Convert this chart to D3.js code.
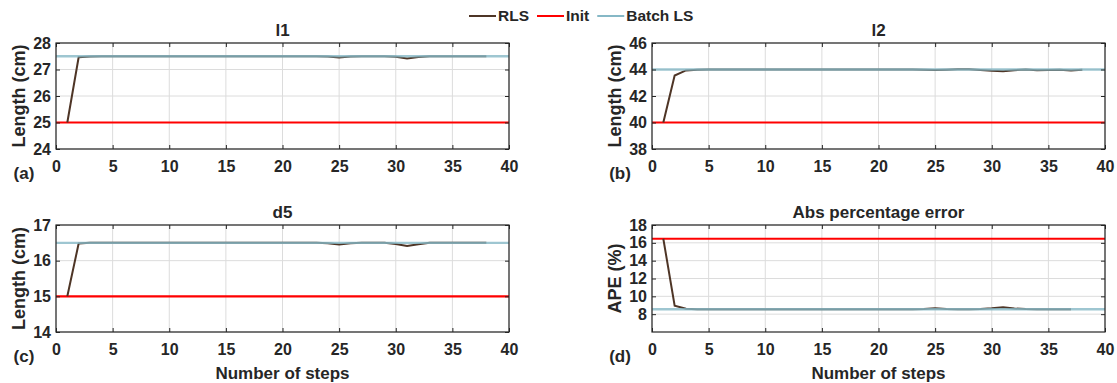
<!DOCTYPE html>
<html>
<head>
<meta charset="utf-8">
<script src="https://cdn.jsdelivr.net/npm/d3@7"></script>
<style>
  body { margin: 0; background: #fff; }
  svg text { font-family: "Liberation Sans", Arial, sans-serif; font-weight: bold; fill: #262626; }
  .grid line { stroke: #dcdcdc; stroke-width: 1; }
</style>
</head>
<body>
<div id="chart"></div>
<script>
// RLS estimate per step (step = index + 1)
var rlsL1 = [25.00, 27.46, 27.49, 27.50, 27.50, 27.50, 27.50, 27.50, 27.50, 27.50,
             27.50, 27.50, 27.50, 27.50, 27.50, 27.50, 27.50, 27.50, 27.50, 27.50,
             27.50, 27.50, 27.50, 27.49, 27.45, 27.49, 27.50, 27.50, 27.50, 27.48,
             27.42, 27.47, 27.50, 27.50, 27.50, 27.50, 27.50, 27.50];
var rlsL2 = [40.00, 43.55, 43.93, 43.98, 44.00, 44.00, 44.00, 44.00, 44.00, 44.00,
             44.00, 44.00, 44.00, 44.00, 44.00, 44.00, 44.00, 44.00, 44.00, 44.00,
             44.00, 44.00, 44.00, 43.99, 43.96, 43.99, 44.01, 44.01, 43.97, 43.90,
             43.86, 43.95, 44.00, 43.94, 43.96, 43.99, 43.92, 43.99];
var rlsD5 = [15.00, 16.48, 16.50, 16.50, 16.50, 16.50, 16.50, 16.50, 16.50, 16.50,
             16.50, 16.50, 16.50, 16.50, 16.50, 16.50, 16.50, 16.50, 16.50, 16.50,
             16.50, 16.50, 16.50, 16.49, 16.45, 16.49, 16.50, 16.50, 16.50, 16.47,
             16.41, 16.46, 16.50, 16.50, 16.50, 16.50, 16.50, 16.50];
var rlsApe = [16.46, 8.95, 8.60, 8.56, 8.55, 8.55, 8.55, 8.55, 8.55, 8.55,
              8.55, 8.55, 8.55, 8.55, 8.55, 8.55, 8.55, 8.55, 8.55, 8.55,
              8.55, 8.55, 8.55, 8.58, 8.66, 8.59, 8.56, 8.56, 8.58, 8.66,
              8.78, 8.64, 8.58, 8.56, 8.56, 8.56, 8.56];

var initVals  = [25, 40, 15, 16.46];
var batchVals = [27.5, 44, 16.5, 8.55];

var titles  = ['l1', 'l2', 'd5', 'Abs percentage error'];
var yLabels = ['Length (cm)', 'Length (cm)', 'Length (cm)', 'APE (%)'];
var tags    = ['(a)', '(b)', '(c)', '(d)'];
var yDomains = [[24, 28], [38, 46], [14, 17], [6, 18]];
var yTicks   = [[24, 25, 26, 27, 28], [38, 40, 42, 44, 46], [14, 15, 16, 17], [8, 10, 12, 14, 16, 18]];
var xTicks   = [0, 5, 10, 15, 20, 25, 30, 35, 40];
var xDomain  = [0, 40];

var seriesNames = ['RLS', 'Init', 'Batch LS'];
var colors = { rls: '#4e3526', init: '#ff0000', batch: '#86b8c6' };

var width = 1117, height = 383;
var plotW = 453;
var lefts = [56, 652];
var tops = [43, 225];
var heights = [106, 107];

var svg = d3.select('#chart').append('svg')
    .attr('width', width)
    .attr('height', height);

function drawPanel(i, rls) {
    var col = i % 2, row = Math.floor(i / 2);
    var x0 = lefts[col], y0 = tops[row], h = heights[row];

    var g = svg.append('g').attr('transform', 'translate(' + x0 + ',' + y0 + ')');

    var x = d3.scaleLinear().domain(xDomain).range([0, plotW]);
    var y = d3.scaleLinear().domain(yDomains[i]).range([h, 0]);

    // grid
    g.append('g').attr('class', 'grid')
        .selectAll('line.vx').data(xTicks).enter().append('line')
        .attr('x1', d => x(d)).attr('x2', d => x(d))
        .attr('y1', 0).attr('y2', h);
    g.append('g').attr('class', 'grid')
        .selectAll('line.hy').data(yTicks[i]).enter().append('line')
        .attr('x1', 0).attr('x2', plotW)
        .attr('y1', d => y(d)).attr('y2', d => y(d));

    var line = d3.line()
        .x(d => x(d[0]))
        .y(d => y(d[1]));

    g.append('path')
        .datum([[xDomain[0], initVals[i]], [xDomain[1], initVals[i]]])
        .attr('d', line)
        .attr('fill', 'none')
        .attr('stroke', colors.init)
        .attr('stroke-width', 2.2);

    g.append('path')
        .datum(rls.map((v, k) => [k + 1, v]))
        .attr('d', line)
        .attr('fill', 'none')
        .attr('stroke', colors.rls)
        .attr('stroke-width', 2);

    g.append('path')
        .datum([[xDomain[0], batchVals[i]], [xDomain[1], batchVals[i]]])
        .attr('d', line)
        .attr('fill', 'none')
        .attr('stroke', colors.batch)
        .attr('stroke-opacity', 0.8)
        .attr('stroke-width', 2.4);

    // axes, ticks pointing inward on all sides
    var fmt = d3.format('d');
    var xb = g.append('g').attr('transform', 'translate(0,' + h + ')')
        .call(d3.axisBottom(x).tickValues(xTicks).tickFormat(fmt).tickSizeInner(-4).tickSizeOuter(0).tickPadding(12));
    var xt = g.append('g')
        .call(d3.axisTop(x).tickValues(xTicks).tickFormat('').tickSizeInner(-4).tickSizeOuter(0));
    var yl = g.append('g')
        .call(d3.axisLeft(y).tickValues(yTicks[i]).tickFormat(fmt).tickSizeInner(-4).tickSizeOuter(0).tickPadding(5));
    var yr = g.append('g').attr('transform', 'translate(' + plotW + ',0)')
        .call(d3.axisRight(y).tickValues(yTicks[i]).tickFormat('').tickSizeInner(-4).tickSizeOuter(0));

    [xb, xt, yl, yr].forEach(function(a) {
        a.select('.domain').remove();
        a.selectAll('line').attr('stroke', '#262626');
        a.selectAll('text').attr('font-size', 16).attr('font-family', null).attr('fill', '#262626');
    });

    g.append('rect')
        .attr('width', plotW).attr('height', h)
        .attr('fill', 'none')
        .attr('stroke', '#262626')
        .attr('stroke-width', 1.2);

    g.append('text')
        .attr('x', plotW / 2).attr('y', -7)
        .attr('text-anchor', 'middle')
        .attr('font-size', 17)
        .text(titles[i]);

    g.append('text')
        .attr('transform', 'translate(-37,' + (h / 2) + ') rotate(-90)')
        .attr('text-anchor', 'middle')
        .attr('dy', '0.35em')
        .attr('font-size', 18)
        .text(yLabels[i]);

    g.append('text')
        .attr('x', -32).attr('y', h + 24)
        .attr('text-anchor', 'middle')
        .attr('dy', '0.35em')
        .attr('font-size', 17)
        .text(tags[i]);

    if (row === 1) {
        g.append('text')
            .attr('x', plotW / 2).attr('y', h + 41)
            .attr('text-anchor', 'middle')
            .attr('dy', '0.35em')
            .attr('font-size', 17)
            .text('Number of steps');
    }
}

drawPanel(0, rlsL1);
drawPanel(1, rlsL2);
drawPanel(2, rlsD5);
drawPanel(3, rlsApe);

// legend
var legColors = [colors.rls, colors.init, colors.batch];
var lg = svg.append('g').attr('transform', 'translate(469,16)');
var cx = 0;
seriesNames.forEach(function(name, k) {
    lg.append('line')
        .attr('x1', cx).attr('x2', cx + 27)
        .attr('y1', 0).attr('y2', 0)
        .attr('stroke', legColors[k])
        .attr('stroke-width', 2);
    var t = lg.append('text')
        .attr('x', cx + 29).attr('y', 0)
        .attr('dy', '0.35em')
        .attr('font-size', 15.5)
        .text(name);
    cx += 29 + t.node().getComputedTextLength() + 8;
});
</script>
</body>
</html>
